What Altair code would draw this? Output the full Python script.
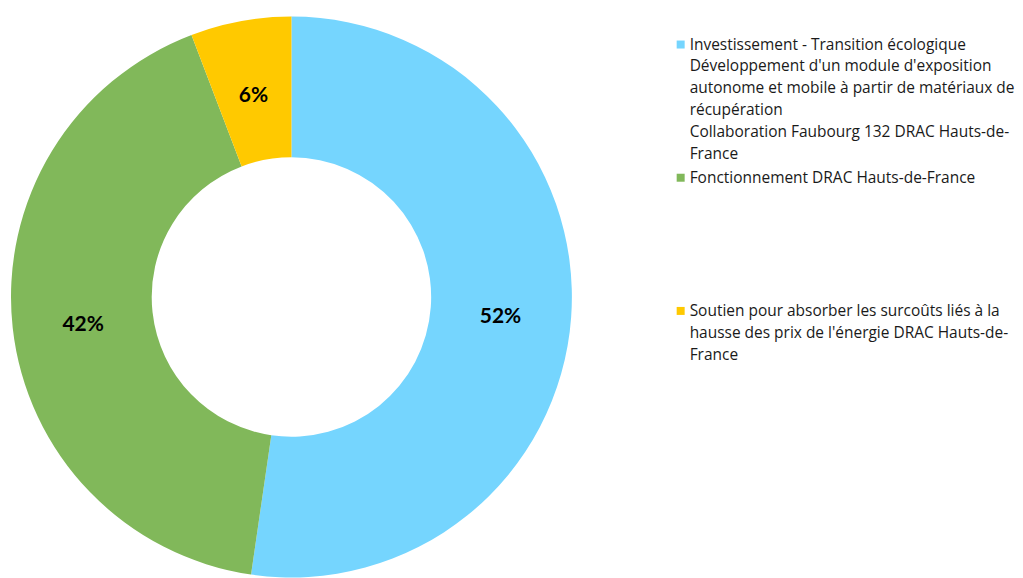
import altair as alt
import pandas as pd

categories = [
    "Investissement - Transition écologique\nDéveloppement d'un module d'exposition\nautonome et mobile à partir de matériaux de\nrécupération\nCollaboration Faubourg 132 DRAC Hauts-de-\nFrance",
    "Fonctionnement DRAC Hauts-de-France",
    "Soutien pour absorber les surcoûts liés à la\nhausse des prix de l'énergie DRAC Hauts-de-\nFrance",
]
shares = [52.3, 41.9, 5.8]
labels = ["52%", "42%", "6%"]
colors = ["#75D5FE", "#81B85A", "#FFC900"]
order = [0, 1, 2]

df = pd.DataFrame({"cat": categories, "share": shares, "label": labels, "ord": order})
color_scale = alt.Scale(domain=categories, range=colors)

base = alt.Chart(df).encode(
    theta=alt.Theta("share:Q", stack=True),
    order=alt.Order("ord:Q"),
)

arcs = base.mark_arc(radius=281, radius2=140, stroke=None).encode(
    color=alt.Color("cat:N", scale=color_scale, legend=None),
    x=alt.value(284),
    y=alt.value(289),
)

txt = base.mark_text(radius=210, font="Lato", fontSize=21, fontWeight="bold",
                     color="black", baseline="middle", align="center").encode(
    text="label:N",
    x=alt.value(284),
    y=alt.value(294),
)

donut = alt.layer(arcs, txt).properties(width=580, height=570)

leg = alt.Chart(df).encode(
    y=alt.Y("ord:O", axis=None, scale=alt.Scale(type="point", padding=0.27)),
)
leg_sq = leg.mark_square(size=64, opacity=1).encode(
    color=alt.Color("cat:N", scale=color_scale, legend=None),
    x=alt.value(5),
)
leg_txt = leg.mark_text(align="left", baseline="middle", font="Open Sans", fontSize=15.5,
                        lineBreak="\n", lineHeight=22, color="#1a1a1a").encode(
    text="cat:N",
    x=alt.value(14),
)
legend = alt.layer(leg_sq, leg_txt).properties(width=330, height=339)

chart = alt.hconcat(donut, legend, spacing=89).properties(padding=0).configure_view(stroke=None)

chart.save("out.html", embed_options={"renderer": "svg", "actions": False})
